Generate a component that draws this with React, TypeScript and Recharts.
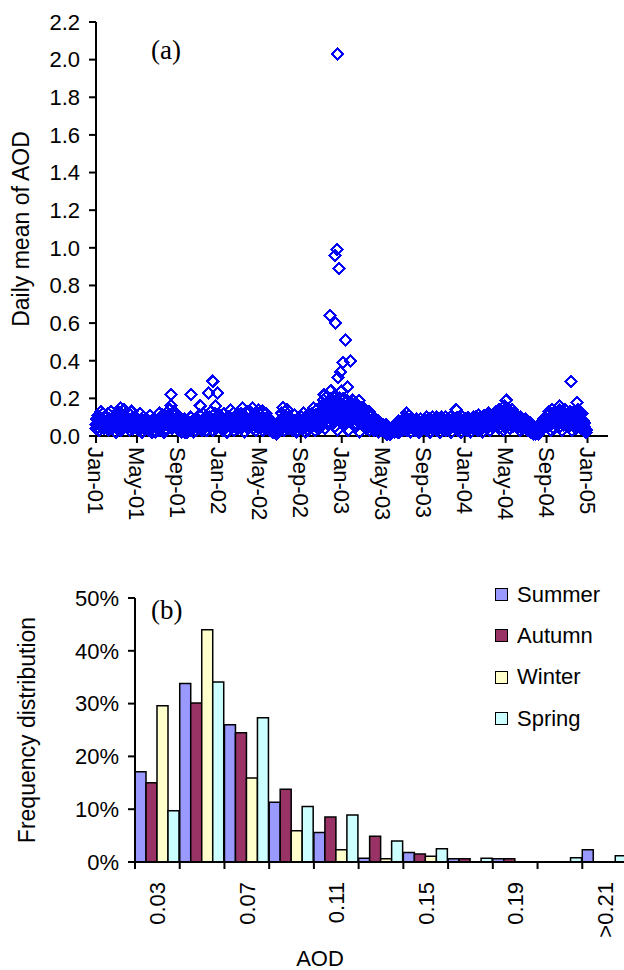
import { ScatterChart, Scatter, BarChart, Bar, XAxis, YAxis, Legend, Label } from 'recharts';

const SANS = 'Liberation Sans, Arial, sans-serif';
const SERIF = 'Liberation Serif, Times New Roman, serif';

// ---- (a) daily mean AOD, 2001-2004 ----
const dateTicks = ['Jan-01', 'May-01', 'Sep-01', 'Jan-02', 'May-02', 'Sep-02', 'Jan-03', 'May-03', 'Sep-03', 'Jan-04', 'May-04', 'Sep-04', 'Jan-05'];
const aodTicks = [0, 0.2, 0.4, 0.6, 0.8, 1.0, 1.2, 1.4, 1.6, 1.8, 2.0, 2.2];

// odd days of each month
const oddDays = [1, 3, 5, 7, 9, 11, 13, 15, 17, 19, 21, 23, 25, 27, 29];
// retrievals on even days
const evenDays = [2, 6, 10, 14, 18, 22, 26];

const aod2001 = [
  [0.06, 0.09, 0.04, 0.11, 0.07, 0.03, 0.08, 0.13, 0.05, 0.09, 0.06, 0.12, 0.04, 0.07, 0.10],
  [0.08, 0.05, 0.12, 0.03, 0.07, 0.09, 0.06, 0.13, 0.04, 0.08, 0.10, 0.05, 0.07, 0.02, 0.11],
  [0.07, 0.04, 0.09, 0.13, 0.06, 0.08, 0.15, 0.03, 0.07, 0.11, 0.05, 0.09, 0.14, 0.06, 0.08],
  [0.09, 0.05, 0.07, 0.12, 0.03, 0.08, 0.06, 0.13, 0.04, 0.09, 0.07, 0.10, 0.05, 0.08, 0.06],
  [0.06, 0.04, 0.08, 0.03, 0.07, 0.12, 0.05, 0.09, 0.02, 0.07, 0.10, 0.06, 0.04, 0.08, 0.05],
  [0.05, 0.08, 0.03, 0.06, 0.11, 0.04, 0.07, 0.02, 0.06, 0.09, 0.03, 0.07, 0.05, 0.08, 0.04],
  [0.05, 0.08, 0.03, 0.12, 0.06, 0.04, 0.09, 0.05, 0.11, 0.07, 0.02, 0.06, 0.08, 0.04, 0.07],
  [0.07, 0.11, 0.05, 0.14, 0.08, 0.16, 0.04, 0.09, 0.06, 0.13, 0.08, 0.05, 0.12, 0.07, 0.10],
  [0.05, 0.03, 0.07, 0.04, 0.08, 0.02, 0.06, 0.04, 0.05, 0.09, 0.03, 0.06, 0.07, 0.02, 0.05],
  [0.05, 0.07, 0.03, 0.06, 0.10, 0.04, 0.06, 0.08, 0.02, 0.07, 0.05, 0.09, 0.03, 0.06, 0.08],
  [0.04, 0.07, 0.11, 0.05, 0.08, 0.03, 0.06, 0.12, 0.05, 0.09, 0.07, 0.03, 0.06, 0.08, 0.10],
  [0.07, 0.10, 0.05, 0.13, 0.06, 0.09, 0.03, 0.11, 0.08, 0.05, 0.12, 0.04, 0.07, 0.09, 0.06],
];
const aod2002 = [
  [0.09, 0.05, 0.11, 0.04, 0.08, 0.06, 0.03, 0.07, 0.12, 0.05, 0.09, 0.06, 0.02, 0.08, 0.10],
  [0.10, 0.07, 0.14, 0.05, 0.08, 0.06, 0.12, 0.03, 0.09, 0.07, 0.05, 0.11, 0.04, 0.08, 0.06],
  [0.06, 0.09, 0.04, 0.12, 0.07, 0.15, 0.05, 0.08, 0.02, 0.10, 0.07, 0.13, 0.05, 0.09, 0.06],
  [0.08, 0.13, 0.05, 0.09, 0.15, 0.04, 0.07, 0.06, 0.12, 0.03, 0.08, 0.10, 0.06, 0.14, 0.07],
  [0.07, 0.11, 0.05, 0.08, 0.13, 0.03, 0.06, 0.09, 0.05, 0.12, 0.04, 0.07, 0.06, 0.09, 0.05],
  [0.07, 0.04, 0.08, 0.03, 0.06, 0.02, 0.05, 0.03, 0.04, 0.01, 0.03, 0.05, 0.02, 0.04, 0.06],
  [0.05, 0.08, 0.12, 0.06, 0.15, 0.07, 0.03, 0.13, 0.09, 0.06, 0.14, 0.04, 0.10, 0.07, 0.08],
  [0.07, 0.05, 0.09, 0.03, 0.08, 0.06, 0.11, 0.04, 0.07, 0.02, 0.09, 0.06, 0.05, 0.08, 0.06],
  [0.06, 0.10, 0.04, 0.08, 0.12, 0.05, 0.07, 0.02, 0.09, 0.06, 0.11, 0.03, 0.08, 0.07, 0.09],
  [0.08, 0.12, 0.05, 0.10, 0.15, 0.06, 0.03, 0.11, 0.07, 0.14, 0.06, 0.09, 0.04, 0.13, 0.08],
  [0.11, 0.16, 0.07, 0.19, 0.13, 0.04, 0.17, 0.09, 0.21, 0.12, 0.06, 0.18, 0.10, 0.15, 0.20],
  [0.14, 0.08, 0.18, 0.11, 0.21, 0.05, 0.16, 0.12, 0.19, 0.03, 0.15, 0.09, 0.20, 0.13, 0.17],
];
const aod2003 = [
  [0.17, 0.10, 0.20, 0.13, 0.06, 0.18, 0.15, 0.08, 0.19, 0.12, 0.03, 0.16, 0.11, 0.18, 0.14],
  [0.15, 0.19, 0.09, 0.13, 0.17, 0.05, 0.12, 0.16, 0.08, 0.14, 0.02, 0.11, 0.15, 0.07, 0.13],
  [0.13, 0.15, 0.07, 0.11, 0.14, 0.04, 0.10, 0.12, 0.06, 0.09, 0.13, 0.03, 0.08, 0.11, 0.07],
  [0.09, 0.06, 0.08, 0.04, 0.07, 0.09, 0.03, 0.06, 0.08, 0.02, 0.05, 0.07, 0.04, 0.06, 0.05],
  [0.06, 0.04, 0.05, 0.02, 0.04, 0.06, 0.01, 0.03, 0.05, 0.02, 0.03, 0.01, 0.04, 0.02, 0.03],
  [0.03, 0.05, 0.02, 0.06, 0.04, 0.07, 0.03, 0.05, 0.08, 0.02, 0.06, 0.04, 0.07, 0.05, 0.03],
  [0.06, 0.08, 0.04, 0.10, 0.07, 0.12, 0.03, 0.09, 0.05, 0.11, 0.07, 0.02, 0.08, 0.06, 0.09],
  [0.05, 0.08, 0.03, 0.07, 0.09, 0.04, 0.06, 0.08, 0.02, 0.07, 0.05, 0.09, 0.03, 0.06, 0.08],
  [0.06, 0.09, 0.04, 0.08, 0.10, 0.03, 0.07, 0.05, 0.09, 0.02, 0.06, 0.08, 0.04, 0.10, 0.07],
  [0.07, 0.04, 0.09, 0.06, 0.10, 0.03, 0.08, 0.05, 0.09, 0.02, 0.07, 0.10, 0.04, 0.08, 0.06],
  [0.08, 0.05, 0.10, 0.03, 0.07, 0.09, 0.04, 0.08, 0.06, 0.10, 0.02, 0.07, 0.09, 0.05, 0.08],
  [0.06, 0.09, 0.04, 0.08, 0.10, 0.03, 0.07, 0.09, 0.05, 0.08, 0.02, 0.06, 0.10, 0.04, 0.07],
];
const aod2004 = [
  [0.07, 0.05, 0.09, 0.03, 0.08, 0.10, 0.04, 0.07, 0.09, 0.02, 0.06, 0.08, 0.05, 0.10, 0.07],
  [0.08, 0.10, 0.05, 0.09, 0.03, 0.11, 0.07, 0.04, 0.10, 0.06, 0.08, 0.02, 0.09, 0.11, 0.07],
  [0.09, 0.06, 0.11, 0.04, 0.10, 0.12, 0.07, 0.03, 0.09, 0.11, 0.05, 0.10, 0.08, 0.12, 0.06],
  [0.10, 0.13, 0.06, 0.12, 0.08, 0.14, 0.04, 0.11, 0.09, 0.13, 0.07, 0.12, 0.03, 0.10, 0.14],
  [0.13, 0.09, 0.14, 0.06, 0.12, 0.10, 0.04, 0.13, 0.08, 0.11, 0.14, 0.05, 0.10, 0.12, 0.07],
  [0.10, 0.07, 0.11, 0.05, 0.09, 0.08, 0.03, 0.10, 0.06, 0.09, 0.04, 0.08, 0.07, 0.05, 0.09],
  [0.07, 0.05, 0.08, 0.03, 0.06, 0.04, 0.07, 0.02, 0.05, 0.03, 0.04, 0.01, 0.03, 0.02, 0.01],
  [0.02, 0.03, 0.05, 0.01, 0.04, 0.06, 0.03, 0.07, 0.05, 0.08, 0.04, 0.09, 0.06, 0.10, 0.07],
  [0.08, 0.11, 0.05, 0.13, 0.09, 0.12, 0.03, 0.10, 0.14, 0.07, 0.11, 0.04, 0.13, 0.09, 0.12],
  [0.11, 0.07, 0.13, 0.09, 0.14, 0.05, 0.12, 0.10, 0.03, 0.13, 0.08, 0.11, 0.14, 0.06, 0.10],
  [0.09, 0.12, 0.05, 0.11, 0.13, 0.07, 0.10, 0.03, 0.12, 0.08, 0.13, 0.06, 0.10, 0.04, 0.11],
  [0.10, 0.06, 0.12, 0.08, 0.11, 0.04, 0.09, 0.12, 0.05, 0.08, 0.03, 0.07, 0.04, 0.02, 0.03],
];

const aod2001b = [
  [0.04, 0.07, 0.09, 0.06, 0.08, 0.05, 0.10],
  [0.06, 0.09, 0.04, 0.08, 0.05, 0.07, 0.10],
  [0.08, 0.05, 0.10, 0.07, 0.11, 0.06, 0.09],
  [0.05, 0.08, 0.06, 0.09, 0.04, 0.07, 0.10],
  [0.06, 0.03, 0.08, 0.05, 0.07, 0.04, 0.09],
  [0.04, 0.06, 0.03, 0.07, 0.05, 0.08, 0.02],
  [0.05, 0.08, 0.04, 0.06, 0.09, 0.03, 0.07],
  [0.07, 0.10, 0.05, 0.09, 0.06, 0.11, 0.08],
  [0.04, 0.06, 0.03, 0.05, 0.07, 0.02, 0.05],
  [0.05, 0.03, 0.07, 0.04, 0.06, 0.08, 0.05],
  [0.06, 0.04, 0.08, 0.05, 0.07, 0.09, 0.03],
  [0.07, 0.05, 0.09, 0.06, 0.08, 0.04, 0.10],
];
const aod2002b = [
  [0.06, 0.08, 0.04, 0.09, 0.07, 0.05, 0.10],
  [0.07, 0.05, 0.09, 0.06, 0.10, 0.04, 0.08],
  [0.05, 0.08, 0.06, 0.10, 0.07, 0.09, 0.04],
  [0.09, 0.06, 0.10, 0.07, 0.11, 0.05, 0.08],
  [0.06, 0.09, 0.05, 0.08, 0.04, 0.07, 0.10],
  [0.03, 0.05, 0.02, 0.04, 0.06, 0.03, 0.04],
  [0.06, 0.09, 0.05, 0.08, 0.10, 0.07, 0.04],
  [0.05, 0.07, 0.04, 0.08, 0.06, 0.03, 0.07],
  [0.06, 0.04, 0.08, 0.05, 0.07, 0.09, 0.05],
  [0.07, 0.10, 0.06, 0.09, 0.05, 0.11, 0.08],
  [0.09, 0.12, 0.08, 0.14, 0.10, 0.13, 0.07],
  [0.10, 0.13, 0.08, 0.12, 0.14, 0.09, 0.11],
];
const aod2003b = [
  [0.11, 0.08, 0.13, 0.10, 0.14, 0.09, 0.12],
  [0.09, 0.12, 0.07, 0.11, 0.13, 0.08, 0.10],
  [0.07, 0.10, 0.06, 0.09, 0.05, 0.08, 0.11],
  [0.05, 0.03, 0.06, 0.04, 0.07, 0.05, 0.03],
  [0.03, 0.02, 0.04, 0.01, 0.03, 0.02, 0.04],
  [0.04, 0.03, 0.05, 0.02, 0.06, 0.04, 0.05],
  [0.05, 0.07, 0.04, 0.08, 0.06, 0.09, 0.05],
  [0.04, 0.06, 0.05, 0.07, 0.03, 0.06, 0.05],
  [0.05, 0.07, 0.04, 0.08, 0.06, 0.05, 0.07],
  [0.06, 0.04, 0.07, 0.05, 0.08, 0.06, 0.05],
  [0.05, 0.07, 0.06, 0.08, 0.04, 0.07, 0.06],
  [0.06, 0.05, 0.08, 0.04, 0.07, 0.06, 0.08],
];
const aod2004b = [
  [0.05, 0.07, 0.06, 0.08, 0.04, 0.06, 0.07],
  [0.06, 0.08, 0.05, 0.07, 0.09, 0.04, 0.06],
  [0.07, 0.05, 0.08, 0.06, 0.09, 0.07, 0.10],
  [0.08, 0.06, 0.10, 0.07, 0.09, 0.11, 0.05],
  [0.09, 0.07, 0.10, 0.06, 0.11, 0.08, 0.09],
  [0.06, 0.08, 0.05, 0.07, 0.04, 0.06, 0.05],
  [0.05, 0.04, 0.06, 0.03, 0.04, 0.02, 0.03],
  [0.03, 0.04, 0.02, 0.05, 0.06, 0.07, 0.05],
  [0.07, 0.09, 0.06, 0.10, 0.08, 0.11, 0.07],
  [0.08, 0.10, 0.07, 0.11, 0.09, 0.06, 0.10],
  [0.07, 0.09, 0.06, 0.10, 0.08, 0.05, 0.09],
  [0.07, 0.05, 0.08, 0.06, 0.04, 0.05, 0.03],
];

// high-aerosol days
const episodes: [string, number][] = [
  ['2001-08-10', 0.22], ['2001-10-09', 0.22], ['2001-11-06', 0.16], ['2001-12-01', 0.23],
  ['2001-12-13', 0.29], ['2001-12-21', 0.16], ['2001-12-28', 0.23],
  ['2002-11-10', 0.22], ['2002-11-27', 0.64], ['2002-11-29', 0.24], ['2002-12-11', 0.96],
  ['2002-12-14', 0.60], ['2002-12-17', 0.99], ['2002-12-19', 2.03], ['2002-12-20', 0.31],
  ['2002-12-24', 0.89], ['2002-12-28', 0.34], ['2003-01-01', 0.24], ['2003-01-05', 0.39],
  ['2003-01-13', 0.51], ['2003-01-18', 0.26], ['2003-01-27', 0.40], ['2003-02-20', 0.19],
  ['2003-12-07', 0.14], ['2004-04-27', 0.16], ['2004-05-03', 0.19], ['2004-10-10', 0.16],
  ['2004-11-12', 0.29], ['2004-11-30', 0.18], ['2004-12-03', 0.14],
];

// months since Jan 2001, with the day as a fraction of the month
const monthPos = (year: number, month: number, day: number) =>
  (year - 2001) * 12 + month + (day - 1) / new Date(year, month + 1, 0).getDate();

const toPoints = (years: number[][][], days: number[]) =>
  years.flatMap((months, yi) =>
    months.flatMap((vals, m) => vals.map((aod, i) => ({ t: monthPos(2001 + yi, m, days[i]), aod })))
  );

const episodePoints = episodes.map(([d, aod]) => {
  const [y, m, day] = d.split('-').map(Number);
  return { t: monthPos(y, m - 1, day), aod };
});
const aodPoints = [
  ...toPoints([aod2001, aod2002, aod2003, aod2004], oddDays),
  ...toPoints([aod2001b, aod2002b, aod2003b, aod2004b], evenDays),
  ...episodePoints,
];

// ---- (b) seasonal frequency distribution ----
const aodBins = ['0.03', '0.05', '0.07', '0.09', '0.11', '0.13', '0.15', '0.17', '0.19', '0.21', '>0.21'];
const summer = [17.1, 33.8, 26.0, 11.3, 5.6, 0.7, 1.8, 0.6, 0.6, 0, 2.3];
const autumn = [15.0, 30.1, 24.5, 13.8, 8.5, 4.9, 1.5, 0.6, 0.6, 0, 0];
const winter = [29.6, 44.0, 15.9, 5.9, 2.3, 0.6, 1.1, 0, 0, 0, 0];
const spring = [9.7, 34.1, 27.3, 10.5, 8.9, 4.0, 2.5, 0.7, 0, 0.8, 1.2];
const freqTicks = [0, 10, 20, 30, 40, 50];

const seasons = [
  { name: 'Summer', color: '#9999ff', values: summer },
  { name: 'Autumn', color: '#993366', values: autumn },
  { name: 'Winter', color: '#ffffcc', values: winter },
  { name: 'Spring', color: '#ccffff', values: spring },
];

const freqData = aodBins.map((bin, i) => {
  const row: Record<string, string | number> = { bin };
  seasons.forEach((s) => (row[s.name] = s.values[i]));
  return row;
});

const Diamond = (props: any) => {
  const { cx, cy } = props;
  const r = 5.5;
  return (
    <path
      d={`M${cx},${cy - r}L${cx + r},${cy}L${cx},${cy + r}L${cx - r},${cy}Z`}
      fill="none"
      stroke="#0505f8"
      strokeWidth={2.2}
      shapeRendering="crispEdges"
    />
  );
};

const DateTick = ({ x, y, payload }: any) => (
  <text
    transform={`translate(${x},${y}) rotate(90)`}
    textAnchor="start"
    dy="0.36em"
    fontSize={22}
    fontFamily={SANS}
    fill="#000"
  >
    {dateTicks[Math.round(payload.value / 4)]}
  </text>
);

// tick marks sit on the bin edges, every other bin gets a label
const BinTick = ({ x, y, payload }: any) => {
  const i = aodBins.indexOf(payload.value);
  const half = payload.offset ?? 0;
  return (
    <g>
      <line x1={x - half} x2={x - half} y1={y} y2={y + 7} stroke="#000" strokeWidth={2} />
      {i === aodBins.length - 1 && (
        <line x1={x + half} x2={x + half} y1={y} y2={y + 7} stroke="#000" strokeWidth={2} />
      )}
      {i % 2 === 0 && (
        <text
          transform={`translate(${x},${y + 20}) rotate(-90)`}
          textAnchor="end"
          dy="0.36em"
          fontSize={22}
          fontFamily={SANS}
          fill="#000"
        >
          {payload.value}
        </text>
      )}
    </g>
  );
};

const yTitle = (text: string, dx: number) => (props: any) => {
  const { x, y, height } = props.viewBox;
  return (
    <text
      transform={`translate(${x + dx},${y + height / 2}) rotate(-90)`}
      textAnchor="middle"
      dy="0.36em"
      fontSize={23}
      fontFamily={SANS}
      fill="#000"
    >
      {text}
    </text>
  );
};

const tickStyle = { fontSize: 22, fill: '#000', fontFamily: SANS };
const axisStroke = { stroke: '#000', strokeWidth: 2 };

const SeasonLegend = () => (
  <div style={{ fontFamily: SANS, fontSize: 22, color: '#000' }}>
    {seasons.map((s) => (
      <div key={s.name} style={{ display: 'flex', alignItems: 'center', height: 41.3 }}>
        <span
          style={{
            display: 'inline-block',
            width: 11,
            height: 11,
            border: '1.5px solid #000',
            background: s.color,
            marginRight: 9,
          }}
        />
        <span>{s.name}</span>
      </div>
    ))}
  </div>
);

export default function App() {
  return (
    <div
      style={{
        position: 'absolute',
        left: 0,
        top: 0,
        width: 624,
        height: 970,
        overflow: 'hidden',
        background: '#fff',
      }}
    >
      <div style={{ position: 'absolute', left: 0, top: 0 }}>
        <ScatterChart width={624} height={530} margin={{ top: 22, right: 16, bottom: 14, left: 0 }}>
          <XAxis
            type="number"
            dataKey="t"
            domain={[0, 50]}
            ticks={dateTicks.map((_, i) => i * 4)}
            interval={0}
            height={80}
            tickSize={7}
            tickMargin={4}
            axisLine={axisStroke}
            tickLine={axisStroke}
            tick={<DateTick />}
          />
          <YAxis
            type="number"
            dataKey="aod"
            domain={[0, 2.2]}
            ticks={aodTicks}
            interval={0}
            width={96}
            tickSize={7}
            tickMargin={9}
            tickFormatter={(v: number) => v.toFixed(1)}
            axisLine={axisStroke}
            tickLine={axisStroke}
            tick={tickStyle}
          >
            <Label content={yTitle('Daily mean of AOD', 21)} />
          </YAxis>
          <Scatter data={aodPoints} shape={<Diamond />} isAnimationActive={false} />
        </ScatterChart>
      </div>

      <div style={{ position: 'absolute', left: 0, top: 540 }}>
        <BarChart
          width={630}
          height={430}
          data={freqData}
          barCategoryGap={0}
          barGap={0}
          margin={{ top: 58, right: 3, bottom: 8, left: 0 }}
        >
          <XAxis
            dataKey="bin"
            interval={0}
            height={100}
            tickSize={0}
            tickMargin={0}
            axisLine={axisStroke}
            tickLine={false}
            tick={<BinTick />}
          >
            <Label
              content={(props: any) => {
                const { x, y } = props.viewBox;
                return (
                  <text x={x + 185} y={y + 104} textAnchor="middle" fontSize={22} fontFamily={SANS} fill="#000">
                    AOD
                  </text>
                );
              }}
            />
          </XAxis>
          <YAxis
            domain={[0, 50]}
            ticks={freqTicks}
            interval={0}
            width={135}
            tickSize={7}
            tickMargin={9}
            tickFormatter={(v: number) => `${v}%`}
            axisLine={axisStroke}
            tickLine={axisStroke}
            tick={tickStyle}
          >
            <Label content={yTitle('Frequency distribution', 27)} />
          </YAxis>
          <Legend
            layout="vertical"
            align="center"
            verticalAlign="middle"
            wrapperStyle={{ left: 495, top: 34, width: 125 }}
            content={<SeasonLegend />}
          />
          {seasons.map((s) => (
            <Bar
              key={s.name}
              dataKey={s.name}
              fill={s.color}
              stroke="#000"
              strokeWidth={1.5}
              isAnimationActive={false}
            />
          ))}
        </BarChart>
      </div>

      <div style={{ position: 'absolute', left: 151, top: 35, fontFamily: SERIF, fontSize: 27, color: '#000' }}>(a)</div>
      <div style={{ position: 'absolute', left: 151, top: 595, fontFamily: SERIF, fontSize: 27, color: '#000' }}>(b)</div>
    </div>
  );
}
